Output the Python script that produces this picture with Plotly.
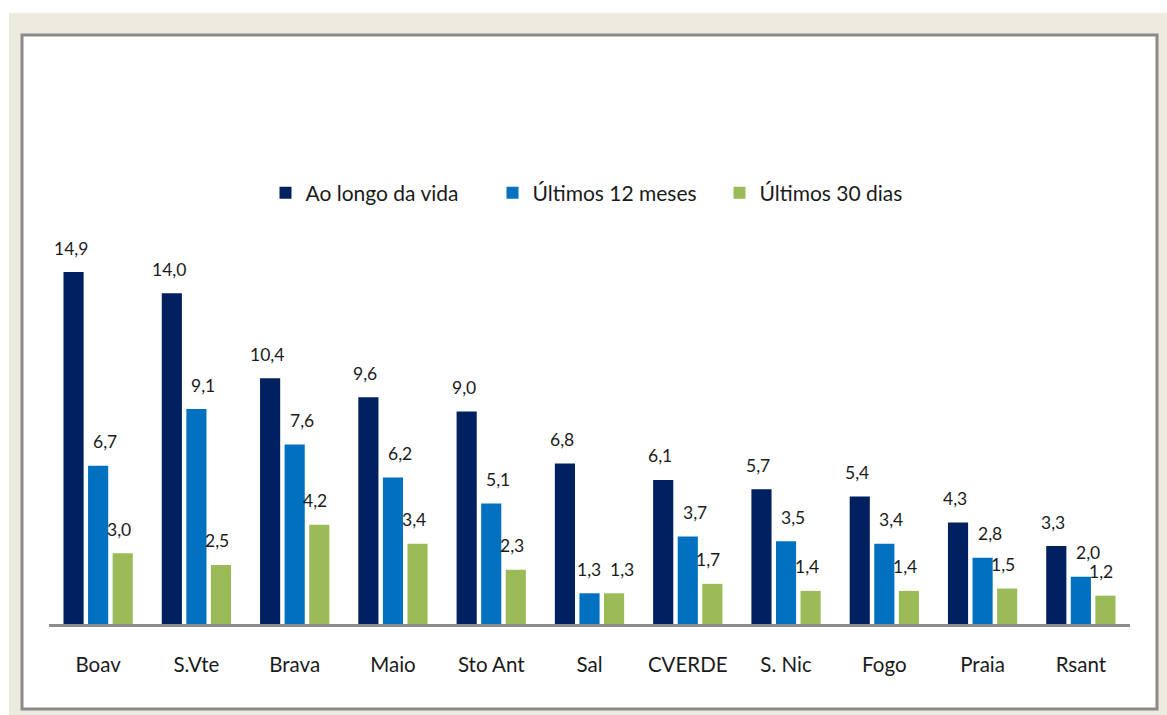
import plotly.graph_objects as go

categories = ["Boav", "S.Vte", "Brava", "Maio", "Sto Ant", "Sal", "CVERDE", "S. Nic", "Fogo", "Praia", "Rsant"]
vida = [14.9, 14.0, 10.4, 9.6, 9.0, 6.8, 6.1, 5.7, 5.4, 4.3, 3.3]
meses12 = [6.7, 9.1, 7.6, 6.2, 5.1, 1.3, 3.7, 3.5, 3.4, 2.8, 2.0]
dias30 = [3.0, 2.5, 4.2, 3.4, 2.3, 1.3, 1.7, 1.4, 1.4, 1.5, 1.2]
series_names = ["Ao longo da vida", "Últimos 12 meses", "Últimos 30 dias"]
colors = ["#002060", "#0070C0", "#9BBB59"]

W, H = 1167, 715
L, R, T, B = 49, 37, 100, 91
pw, ph = W - L - R, H - T - B
PX_PER_UNIT = 23.62

def px(x):
    return (x - L) / pw

def py(y):
    return 1 - (y - T) / ph

font_family = "Lato, 'Open Sans', sans-serif"
text_color = "#1b1b1b"

fig = go.Figure()
all_series = [vida, meses12, dias30]
for name, vals, col in zip(series_names, all_series, colors):
    fig.add_trace(go.Bar(
        x=categories, y=vals, name=name,
        marker=dict(color=col, line=dict(width=0)),
        hoverinfo="x+y",
    ))

group_px = pw / len(categories)
bargap = 0.25
slot = group_px * (1 - bargap) / 3
label_dx = [-3, 7, -4]
annotations = []
for si, vals in enumerate(all_series):
    center_off = (si - 1) * slot
    for ci, (c, v) in enumerate(zip(categories, vals)):
        dx = label_dx[si]
        # keep the 12-month and 30-day labels apart when the bars are of similar height
        if abs(meses12[ci] - dias30[ci]) * PX_PER_UNIT < 18:
            if si == 1:
                dx = -1
            elif si == 2:
                dx = 8
        annotations.append(dict(
            x=c, y=v, xref="x", yref="y",
            text=f"{v:.1f}".replace(".", ","),
            showarrow=False, xanchor="center", yanchor="middle",
            xshift=center_off + dx, yshift=24,
            font=dict(family=font_family, size=17.5, color=text_color),
        ))

shapes = [
    # white strips at top and left of image
    dict(type="rect", xref="paper", yref="paper", x0=px(0), x1=px(W), y0=py(0), y1=py(13),
         fillcolor="white", line=dict(width=0), layer="below"),
    dict(type="rect", xref="paper", yref="paper", x0=px(0), x1=px(9), y0=py(0), y1=py(H),
         fillcolor="white", line=dict(width=0), layer="below"),
    # chart box
    dict(type="rect", xref="paper", yref="paper", x0=px(22), x1=px(1157), y0=py(35), y1=py(709),
         fillcolor="white", line=dict(color="#8a8a8a", width=3), layer="below"),
]

fig.update_layout(
    width=W, height=H,
    margin=dict(l=L, r=R, t=T, b=B, autoexpand=False),
    paper_bgcolor="#EDEBE0",
    plot_bgcolor="rgba(0,0,0,0)",
    barmode="group", bargap=bargap, bargroupgap=0.18,
    showlegend=True,
    legend=dict(orientation="h", x=px(606), xanchor="center", y=py(193), yanchor="middle",
                font=dict(family=font_family, size=21, color=text_color),
                bgcolor="rgba(0,0,0,0)", itemclick=False, entrywidth=182, itemsizing="constant"),
    xaxis=dict(showline=True, linecolor="#8c8c8c", linewidth=3, ticks="", showgrid=False,
               tickfont=dict(family=font_family, size=20.5, color=text_color),
               ticklabelstandoff=20, fixedrange=True),
    yaxis=dict(range=[0, ph / PX_PER_UNIT], visible=False, showgrid=False, zeroline=False, fixedrange=True),
    annotations=annotations,
    shapes=shapes,
    font=dict(family=font_family),
)

fig.write_html("out.html", config={"displayModeBar": False},
               post_script="document.body.style.margin='0';document.body.style.overflow='hidden';")
